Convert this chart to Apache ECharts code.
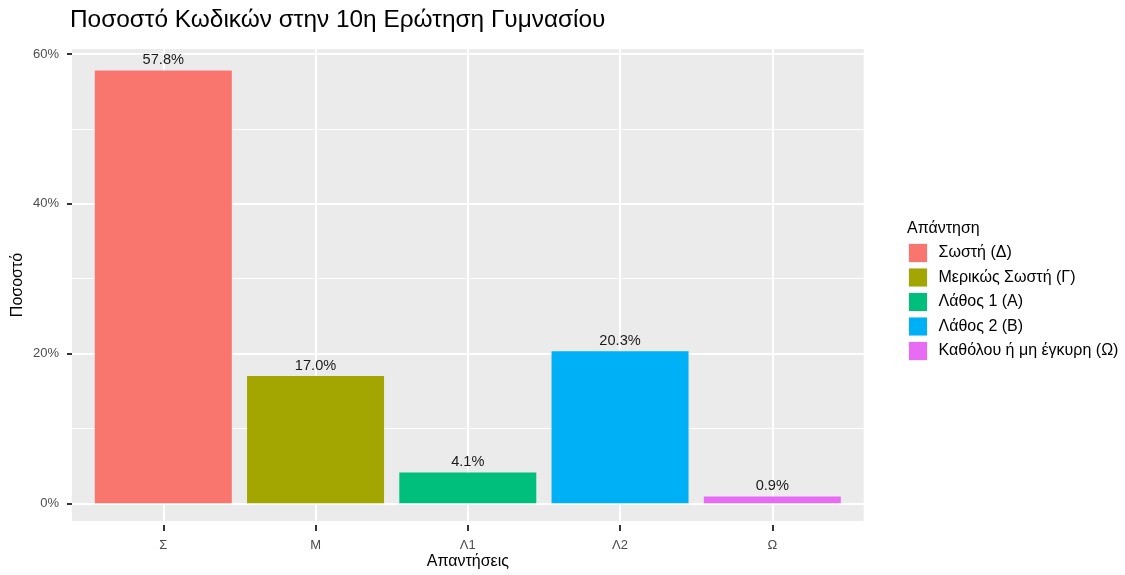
<!DOCTYPE html>
<html>
<head>
<meta charset="utf-8">
<script src="https://cdn.jsdelivr.net/npm/echarts@6/dist/echarts.min.js"></script>
<style>
  html, body { margin: 0; padding: 0; background: #fff; }
  #chart { width: 1125px; height: 575px; }
</style>
</head>
<body>
<div id="chart"></div>
<script>
// data
const codes = ['Σ', 'Μ', 'Λ1', 'Λ2', 'Ω'];
const answers = ['Σωστή (Δ)', 'Μερικώς Σωστή (Γ)', 'Λάθος 1 (Α)', 'Λάθος 2 (Β)', 'Καθόλου ή μη έγκυρη (Ω)'];
const percents = [57.8, 17.0, 4.1, 20.3, 0.9];
const colors = ['#F8766D', '#A3A500', '#00BF7D', '#00B0F6', '#E76BF3'];
const yTicks = [0, 20, 40, 60];

const font = 'Liberation Sans, Arial, sans-serif';
const chart = echarts.init(document.getElementById('chart'));

const hidden = {
    axisLine: { show: false }, axisTick: { show: false },
    axisLabel: { show: false }, splitLine: { show: false }
};

const seriesList = answers.map((name, i) => ({
    name: name,
    type: 'bar',
    xAxisIndex: 2,
    yAxisIndex: 2,
    barWidth: 137,
    barGap: '-100%',
    itemStyle: { color: colors[i] },
    label: {
        show: true,
        position: 'top',
        distance: 3,
        color: '#1a1a1a',
        fontSize: 14.6,
        fontFamily: font,
        formatter: p => p.value[1].toFixed(1) + '%'
    },
    data: [[i + 1, percents[i]]]
}));

chart.setOption({
    animation: false,
    textStyle: { fontFamily: font },
    title: [{
        text: 'Ποσοστό Κωδικών στην 10η Ερώτηση Γυμνασίου',
        left: 65,
        top: 3,
        textStyle: { fontSize: 24.4, fontWeight: 'normal', color: '#000', fontFamily: font }
    }, {
        text: 'Απάντηση',
        left: 902,
        top: 216,
        textStyle: { fontSize: 16, fontWeight: 'normal', color: '#000', fontFamily: font }
    }],
    legend: {
        data: answers,
        orient: 'vertical',
        left: 908,
        top: 243,
        padding: 0,
        icon: 'rect',
        itemWidth: 19,
        itemHeight: 19,
        itemGap: 4.5,
        textStyle: { fontSize: 16, color: '#000', fontFamily: font, padding: [0, 0, 0, 6] },
        itemStyle: { borderColor: '#F2F2F2', borderWidth: 1 },
        selectedMode: false
    },
    grid: [
        // panel background
        { left: 72, right: 261.3, top: 49, bottom: 50, show: true, backgroundColor: '#EBEBEB', borderWidth: 0 },
        // full-height area for the vertical lines and x ticks (x 0..6)
        { left: 11.05, right: 200.45, top: 49, bottom: 50 },
        // data area: x 0..6, y 0..60
        { left: 11.05, right: 200.45, top: 54, bottom: 71.7 }
    ],
    xAxis: [{
        gridIndex: 0,
        type: 'value',
        min: 0, max: 1,
        ...hidden,
        name: 'Απαντήσεις',
        nameLocation: 'middle',
        nameGap: 33,
        nameTextStyle: { fontSize: 16, color: '#000', fontFamily: font }
    }, {
        gridIndex: 1,
        type: 'value',
        min: 0, max: 6, interval: 1,
        axisLine: { show: true, onZero: false, lineStyle: { color: 'rgba(0,0,0,0)' } },
        axisTick: { show: true, length: 6, lineStyle: { color: '#333', width: 2 }, customValues: [1, 2, 3, 4, 5] },
        axisLabel: {
            color: '#4D4D4D', fontSize: 13, margin: 14, fontFamily: font,
            customValues: [1, 2, 3, 4, 5],
            formatter: v => codes[v - 1] || ''
        },
        splitLine: { show: true, lineStyle: { color: '#fff', width: 2 } }
    }, {
        gridIndex: 2,
        type: 'value',
        min: 0, max: 6,
        ...hidden
    }],
    yAxis: [{
        gridIndex: 0,
        type: 'value',
        min: 0, max: 1,
        ...hidden,
        name: 'Ποσοστό',
        nameLocation: 'middle',
        nameGap: 46,
        nameTextStyle: { fontSize: 16, color: '#000', fontFamily: font }
    }, {
        gridIndex: 1,
        type: 'value',
        min: 0, max: 1,
        ...hidden
    }, {
        gridIndex: 2,
        type: 'value',
        min: yTicks[0], max: yTicks[yTicks.length - 1], interval: 20,
        offset: -60.95,
        axisLine: { show: false, onZero: false },
        axisTick: { show: true, length: 5, lineStyle: { color: '#333', width: 2 } },
        axisLabel: { color: '#4D4D4D', fontSize: 13, margin: 13, fontFamily: font, formatter: v => v + '%' },
        splitLine: { show: true, lineStyle: { color: '#fff', width: 2 } },
        minorTick: { show: false, splitNumber: 2 },
        minorSplitLine: { show: true, lineStyle: { color: '#fff', width: 1 } }
    }],
    series: seriesList
});
</script>
</body>
</html>
